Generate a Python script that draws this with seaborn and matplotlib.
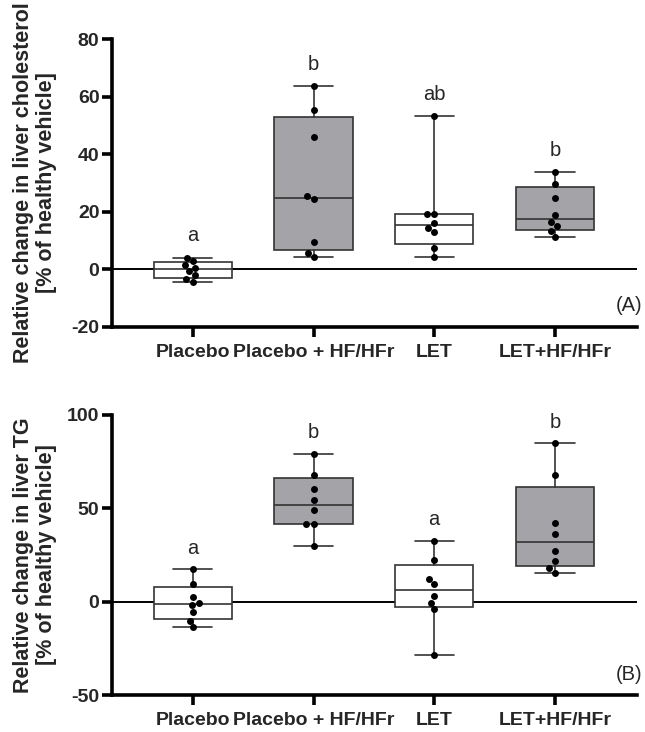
import numpy as np
import pandas as pd
import matplotlib
matplotlib.use('Agg')
import matplotlib.pyplot as plt
import seaborn as sns

sns.set_style('ticks')
plt.rcParams['font.family'] = ['Liberation Sans', 'DejaVu Sans']
plt.rcParams['axes.unicode_minus'] = False

groups = ['Placebo', 'Placebo + HF/HFr', 'LET', 'LET+HF/HFr']
box_colors = ['white', '#a4a4a8', 'white', '#a4a4a8']

# panel A: liver cholesterol (% of healthy vehicle)
chol_placebo = [4.1, 2.9, 1.4, 0.6, -0.6, -2.0, -3.2, -4.3]
chol_placebo_hf = [63.7, 55.3, 45.9, 25.4, 24.4, 9.4, 5.8, 4.3]
chol_let = [53.1, 19.3, 19.3, 16.2, 14.5, 13.1, 7.4, 4.3]
chol_let_hf = [33.8, 29.7, 24.8, 18.8, 16.4, 15.0, 13.3, 11.2]
letters_a = ['a', 'b', 'ab', 'b']

# panel B: liver TG (% of healthy vehicle)
tg_placebo = [17.5, 9.5, 2.3, -0.5, -1.8, -5.5, -10.2, -13.7]
tg_placebo_hf = [79.1, 67.9, 60.5, 54.6, 49.3, 41.4, 41.4, 30.0]
tg_let = [32.7, 22.5, 12.0, 9.6, 3.0, -0.5, -3.7, -28.7]
tg_let_hf = [84.8, 67.7, 42.3, 36.1, 27.3, 21.8, 17.9, 15.5]
letters_b = ['a', 'b', 'a', 'b']


def long_df(series):
    rows = []
    for g, vals in zip(groups, series):
        for v in vals:
            rows.append({'group': g, 'value': v})
    return pd.DataFrame(rows)


def box_stats(vals):
    # quartiles like Prism (n+1 method), whiskers min to max
    q1, med, q3 = np.percentile(vals, [25, 50, 75], method='weibull')
    return dict(med=med, q1=q1, q3=q3, whislo=min(vals), whishi=max(vals), fliers=[])


def draw_panel(ax, series, letters, ylim, yticks, ylabel, tag):
    df = long_df(series)
    ax.axhline(0, color='black', lw=1.4, zorder=0.5)
    sns.swarmplot(data=df, x='group', y='value', order=groups, color='black',
                  size=5, ax=ax, zorder=3)
    lc = '#333333'
    bp = ax.bxp([box_stats(v) for v in series], positions=range(len(groups)),
                widths=0.65, capwidths=0.325, patch_artist=True, manage_ticks=False,
                showfliers=False,
                boxprops=dict(edgecolor=lc, linewidth=1.2),
                medianprops=dict(color=lc, linewidth=1.2),
                whiskerprops=dict(color=lc, linewidth=1.2),
                capprops=dict(color=lc, linewidth=1.2))
    for patch, c in zip(bp['boxes'], box_colors):
        patch.set_facecolor(c)
        patch.set_zorder(2)
    rng = ylim[1] - ylim[0]
    for i, (vals, lab) in enumerate(zip(series, letters)):
        ax.text(i, max(vals) + 0.075 * rng, lab, ha='center', va='center',
                fontsize=14.5)
    ax.set_xlim(-0.67, 3.68)
    ax.set_ylim(*ylim)
    ax.set_yticks(yticks)
    ax.set_xlabel('')
    ax.set_ylabel(ylabel, fontsize=15.5, fontweight='bold', linespacing=1.1)
    ax.yaxis.set_label_coords(-0.105, 0.5)
    for s in ['top', 'right']:
        ax.spines[s].set_visible(False)
    for s in ['left', 'bottom']:
        ax.spines[s].set_linewidth(2.6)
        ax.spines[s].set_color('black')
    ax.tick_params(axis='both', width=2.6, length=7, labelsize=14, color='black')
    ax.tick_params(axis='x', pad=5)
    ax.tick_params(axis='y', pad=2)
    for t in ax.get_xticklabels() + ax.get_yticklabels():
        t.set_fontweight('bold')
    ax.text(1.01, 0.075, tag, transform=ax.transAxes, ha='right', va='center',
            fontsize=14.5)


fig = plt.figure(figsize=(6.45, 7.32), dpi=100)
ax_a = fig.add_axes([0.1736, 0.5533, 0.814, 0.3934])
ax_b = fig.add_axes([0.1736, 0.0505, 0.814, 0.3826])

draw_panel(ax_a, [chol_placebo, chol_placebo_hf, chol_let, chol_let_hf], letters_a,
           (-20, 80), [-20, 0, 20, 40, 60, 80],
           'Relative change in liver cholesterol\n[% of healthy vehicle]', '(A)')
draw_panel(ax_b, [tg_placebo, tg_placebo_hf, tg_let, tg_let_hf], letters_b,
           (-50, 100), [-50, 0, 50, 100],
           'Relative change in liver TG\n[% of healthy vehicle]', '(B)')

fig.savefig('out.png', dpi=100)
